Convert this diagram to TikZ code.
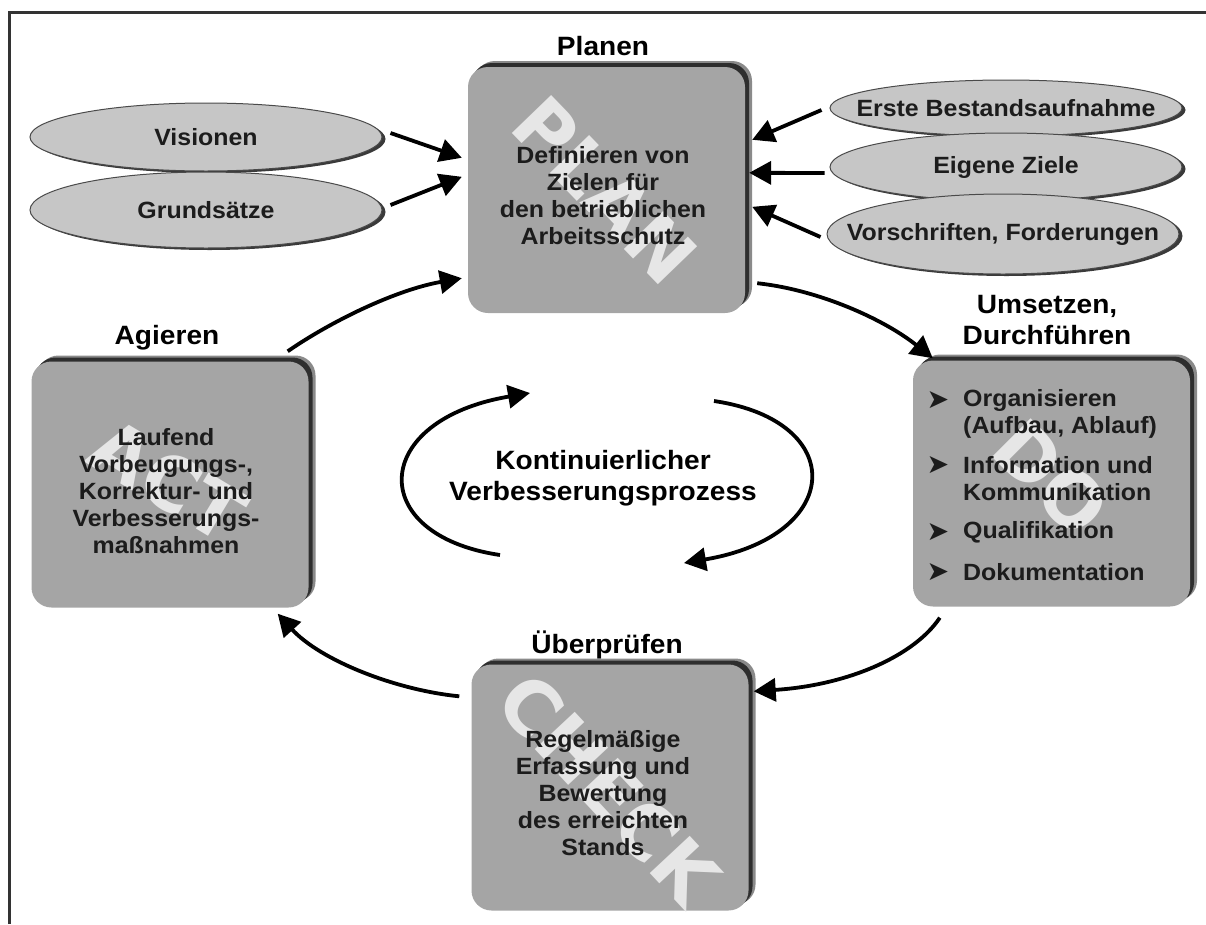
\documentclass[tikz,border=0pt]{standalone}
\usepackage{fontspec}
\setmainfont{Liberation Sans}[FakeStretch=1.06]
\newfontfamily\symfont{DejaVu Sans}
\newfontfamily\wmfont{DejaVu Sans}
\usetikzlibrary{arrows.meta,shapes.geometric,shadows,calc}

\definecolor{boxgray}{HTML}{A5A5A5}
\definecolor{boxdark}{HTML}{2E2E2E}
\definecolor{boxedge}{HTML}{8A8A8A}
\definecolor{ellgray}{HTML}{C6C6C6}
\definecolor{ellline}{HTML}{4A4A4A}
\definecolor{ellshade}{HTML}{3A3A3A}
\definecolor{textcol}{HTML}{1C1C1C}
\definecolor{wmcol}{HTML}{E6E6E6}
\definecolor{framecol}{HTML}{333333}

\begin{document}
\begin{tikzpicture}[x=1pt,y=-1pt,
  phase/.style={rectangle, rounded corners=20pt, minimum width=277pt,
    minimum height=246pt, inner sep=0pt, fill=boxgray,
    general shadow={shadow xshift=7pt, shadow yshift=6pt, fill=boxedge},
    general shadow={shadow xshift=4pt, shadow yshift=4pt, fill=boxdark}},
  wmark/.style={text=wmcol, inner sep=0pt,
    font=\wmfont\fontsize{75}{75}\selectfont\bfseries},
  body/.style={text=textcol, align=center, inner sep=0pt,
    font=\fontsize{23.5}{27}\selectfont\bfseries},
  item/.style={text=textcol, align=left, inner sep=0pt, anchor=west,
    font=\fontsize{23.5}{27}\selectfont\bfseries},
  bul/.style={text=textcol, inner sep=0pt,
    font=\symfont\fontsize{27}{27}\selectfont},
  title/.style={text=black, inner sep=0pt, align=center,
    font=\fontsize{26.5}{31}\selectfont\bfseries},
  ell/.style={ellipse, inner sep=0pt, fill=ellgray, draw=ellline,
    line width=1pt, minimum width=352pt,
    general shadow={shadow xshift=3.5pt, shadow yshift=-2pt, fill=ellshade}},
  etext/.style={text=textcol, inner sep=0pt,
    font=\fontsize{23.5}{27}\selectfont\bfseries},
  flow/.style={line width=3.8pt, draw=black,
    -{Triangle[length=22pt,width=23pt]}},
]
\useasboundingbox (0,0) rectangle (1206,924);

% outer frame (left and top edges)
\draw[line width=3pt, framecol] (9,924) -- (9,12) -- (1206,12);

% ---------------- the four phase boxes ----------------
\node[phase] (plan)  at (606.5,190)  {};
\node[phase] (do)    at (1051.5,483.5) {};
\node[phase] (check) at (610,787.5)  {};
\node[phase] (act)   at (170,484.5)  {};

% background words
\node[wmark, rotate=-46] (wplan)  at (605,190) {PLAN};
\node[wmark, rotate=-45] (wdo)    at (1051,478) {DO};
\node[wmark, rotate=-47] (wcheck) at (609,789) {CHECK};
\node[wmark, rotate=-31] (wact)   at (168,480) {ACT};

% box contents
\node[body] (tplan) at (603,196)
  {Definieren von\\Zielen für\\den betrieblichen\\Arbeitsschutz};
\node[body] (tact) at (166,491)
  {Laufend\\Vorbeugungs-,\\Korrektur- und\\Verbesserungs-\\maßnahmen};
\node[body] (tcheck) at (603,793)
  {Regelmäßige\\Erfassung und\\Bewertung\\des erreichten\\Stands};

\node[bul] (b1) at (938,400) {➤};
\node[bul] (b2) at (938,465) {➤};
\node[bul] (b3) at (938,532) {➤};
\node[bul] (b4) at (938,572) {➤};
\node[item] (i1) at (963,413.5) {Organisieren\\(Aufbau, Ablauf)};
\node[item] (i2) at (963,478.5) {Information und\\Kommunikation};
\node[item] (i3) at (963,532) {Qualifikation};
\node[item] (i4) at (963,572) {Dokumentation};

% titles
\node[title, anchor=base] (lplan)  at (603,55)  {Planen};
\node[title, anchor=base] (lact)   at (167,344) {Agieren};
\node[title, anchor=base] (lcheck) at (607,653) {Überprüfen};
\node[title, anchor=north] (ldo)   at (1047,295) {Umsetzen,\\Durchführen};

% ---------------- input ellipses ----------------
\node[ell, minimum height=68pt, label={[etext]center:Visionen}] (vis) at (206,137) {};
\node[ell, minimum height=76pt, label={[etext]center:Grundsätze}] (gru) at (206,210) {};
\node[ell, minimum height=56pt, label={[etext]center:Erste Bestandsaufnahme}] (erste) at (1006,108) {};
\node[ell, minimum height=68pt, label={[etext]center:Eigene Ziele}] (ziele) at (1006,167) {};
\node[ell, minimum height=80pt, label={[etext]center:Vorschriften, Forderungen}] (vor) at (1003,234) {};

\draw[flow] ($(vis.east)+(8,-4)$)   -- ($(plan.north west)+(-6,91)$);
\draw[flow] ($(gru.east)+(8,-5)$)   -- ($(plan.north west)+(-6,110)$);
\draw[flow] ($(erste.west)+(-8,2)$) -- ($(plan.north east)+(7,73)$);
\draw[flow] ($(ziele.west)+(-5,6)$) -- ($(plan.north east)+(4,106)$);
\draw[flow] ($(vor.west)+(-6,3)$)   -- ($(plan.north east)+(7,140)$);

% ---------------- PDCA cycle ----------------
\draw[flow] ($(act.north east)+(-21,-10)$)
  .. controls (330,322) and (395,290) .. ($(plan.south west)+(-6,-35)$);
\draw[flow] ($(plan.south east)+(12,-30)$)
  .. controls (820,290) and (885,320) .. ($(do.north west)+(20,-2)$);
\draw[flow] ($(do.south west)+(27,11)$)
  .. controls (915,655) and (850,685) .. ($(check.north east)+(5,27)$);
\draw[flow] ($(check.north west)+(-12,32)$)
  .. controls (395,690) and (320,660) .. ($(act.south east)+(-31,6)$);

% ---------------- inner improvement loop ----------------
\node[title] (kvp) at (603,478) {Kontinuierlicher\\Verbesserungsprozess};
\coordinate (la) at (500,555);
\coordinate (lb) at (530,393);
\coordinate (ra) at (714,401);
\coordinate (rb) at (684,563);
\draw[flow] (la) .. controls (365,535) and (370,420) .. (lb);
\draw[flow] (ra) .. controls (849,421) and (844,536) .. (rb);
\end{tikzpicture}
\end{document}
